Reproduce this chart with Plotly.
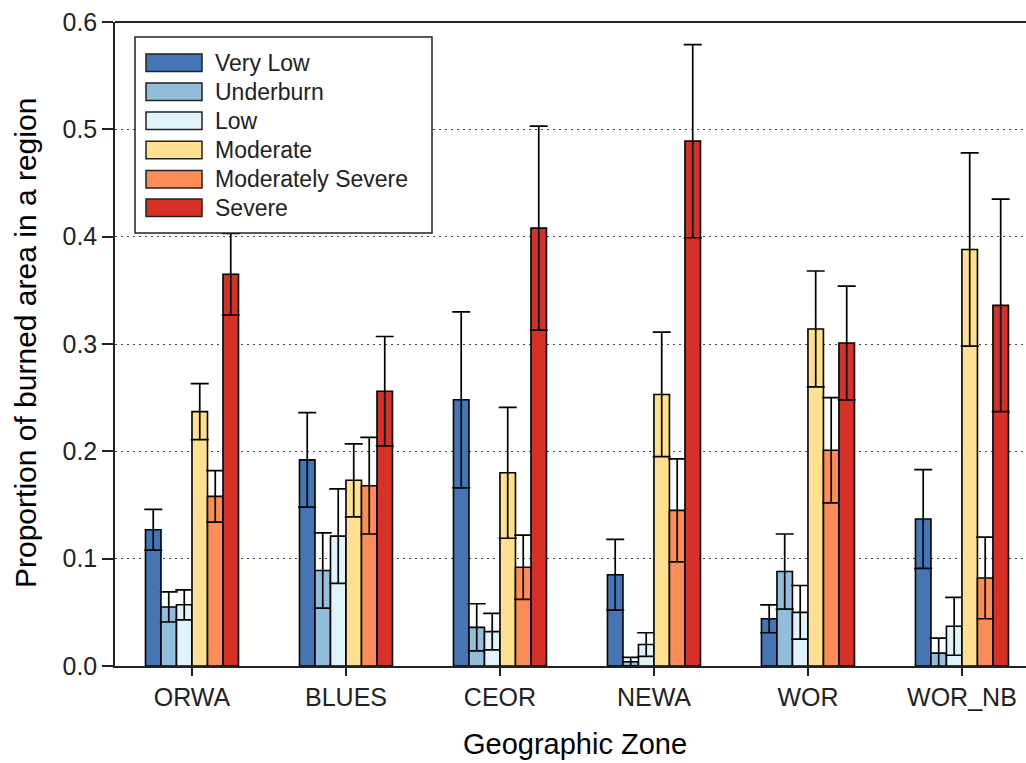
import plotly.graph_objects as go

zones = ["ORWA", "BLUES", "CEOR", "NEWA", "WOR", "WOR_NB"]
series_names = ["Very Low", "Underburn", "Low", "Moderate", "Moderately Severe", "Severe"]

very_low = [0.127, 0.192, 0.248, 0.085, 0.044, 0.137]
very_low_err = [0.019, 0.044, 0.082, 0.033, 0.013, 0.046]
underburn = [0.055, 0.089, 0.036, 0.004, 0.088, 0.012]
underburn_err = [0.014, 0.035, 0.022, 0.004, 0.035, 0.014]
low = [0.057, 0.121, 0.032, 0.020, 0.050, 0.037]
low_err = [0.014, 0.044, 0.017, 0.011, 0.025, 0.027]
moderate = [0.237, 0.173, 0.180, 0.253, 0.314, 0.388]
moderate_err = [0.026, 0.034, 0.061, 0.058, 0.054, 0.090]
mod_severe = [0.158, 0.168, 0.092, 0.145, 0.201, 0.082]
mod_severe_err = [0.024, 0.045, 0.030, 0.048, 0.049, 0.038]
severe = [0.365, 0.256, 0.408, 0.489, 0.301, 0.336]
severe_err = [0.038, 0.051, 0.095, 0.090, 0.053, 0.099]

colors = ["#4575b4", "#91bfdb", "#e0f3f8", "#fee090", "#fc8d59", "#d73027"]
values = [very_low, underburn, low, moderate, mod_severe, severe]
errors = [very_low_err, underburn_err, low_err, moderate_err, mod_severe_err, severe_err]

W, H = 1026, 763
L, T, B = 115, 22, 97
PW = W - L
PH = H - T - B

def px_x(px):
    return (px - L) / PW

def px_y(py):
    return (H - B - py) / PH

FONT = "Liberation Sans, Arial, sans-serif"
INK = "#222222"

fig = go.Figure()
for name, vals, errs, col in zip(series_names, values, errors, colors):
    fig.add_trace(go.Bar(
        x=zones, y=vals, name=name,
        marker=dict(color=col, line=dict(color="black", width=1.6)),
        error_y=dict(type="data", array=errs, color="black", thickness=1.7, width=9),
        showlegend=False,
    ))

shapes = []
shapes.append(dict(type="line", xref="paper", yref="paper", x0=0, x1=1, y0=1, y1=1,
                   line=dict(color=INK, width=2), layer="above"))
shapes.append(dict(type="line", xref="paper", yref="paper", x0=px_x(104), x1=0, y0=0, y1=0,
                   line=dict(color=INK, width=1.5), layer="above"))
shapes.append(dict(type="rect", xref="paper", yref="paper",
                   x0=px_x(135), x1=px_x(432), y0=px_y(233), y1=px_y(37),
                   fillcolor="white", line=dict(color=INK, width=1.5), layer="above"))

annotations = []
row_y = [62.7, 91.7, 120.7, 150, 179.3, 207.7]
for name, col, ry in zip(series_names, colors, row_y):
    shapes.append(dict(type="rect", xref="paper", yref="paper",
                       x0=px_x(146), x1=px_x(202), y0=px_y(ry + 8.8), y1=px_y(ry - 8.8),
                       fillcolor=col, line=dict(color=INK, width=1.5), layer="above"))
    annotations.append(dict(xref="paper", yref="paper", x=px_x(213), y=px_y(ry),
                            xanchor="left", yanchor="middle", showarrow=False,
                            text=name, font=dict(family=FONT, size=23, color=INK)))

annotations.append(dict(xref="paper", yref="paper", x=px_x(575), y=px_y(744),
                        xanchor="center", yanchor="middle", showarrow=False,
                        text="Geographic Zone", font=dict(family=FONT, size=29, color="black")))
annotations.append(dict(xref="paper", yref="paper", x=px_x(25), y=px_y(343),
                        xanchor="center", yanchor="middle", showarrow=False, textangle=-90,
                        text="Proportion of burned area in a region",
                        font=dict(family=FONT, size=30, color="black")))

fig.update_layout(
    width=W, height=H,
    margin=dict(l=L, r=0, t=T, b=B, pad=0),
    paper_bgcolor="white", plot_bgcolor="white",
    barmode="group", bargap=0.396, bargroupgap=0,
    font=dict(family=FONT, color=INK),
    shapes=shapes, annotations=annotations,
    xaxis=dict(type="category", range=[-0.5, 5.416], showline=True, linecolor=INK, linewidth=1.5,
               ticks="outside", ticklen=8, tickwidth=1.5, tickcolor=INK,
               tickfont=dict(family=FONT, size=25, color=INK), showgrid=False, zeroline=False),
    yaxis=dict(range=[0, 0.6], dtick=0.1, tickformat=".1f", showline=True, linecolor=INK, linewidth=1.5,
               ticks="outside", ticklen=11, tickwidth=1.5, tickcolor=INK,
               tickfont=dict(family=FONT, size=25, color=INK),
               showgrid=True, gridcolor="#444444", gridwidth=1.2, griddash="1.5px,4.5px", zeroline=False),
)

fig.write_html("out.html")
